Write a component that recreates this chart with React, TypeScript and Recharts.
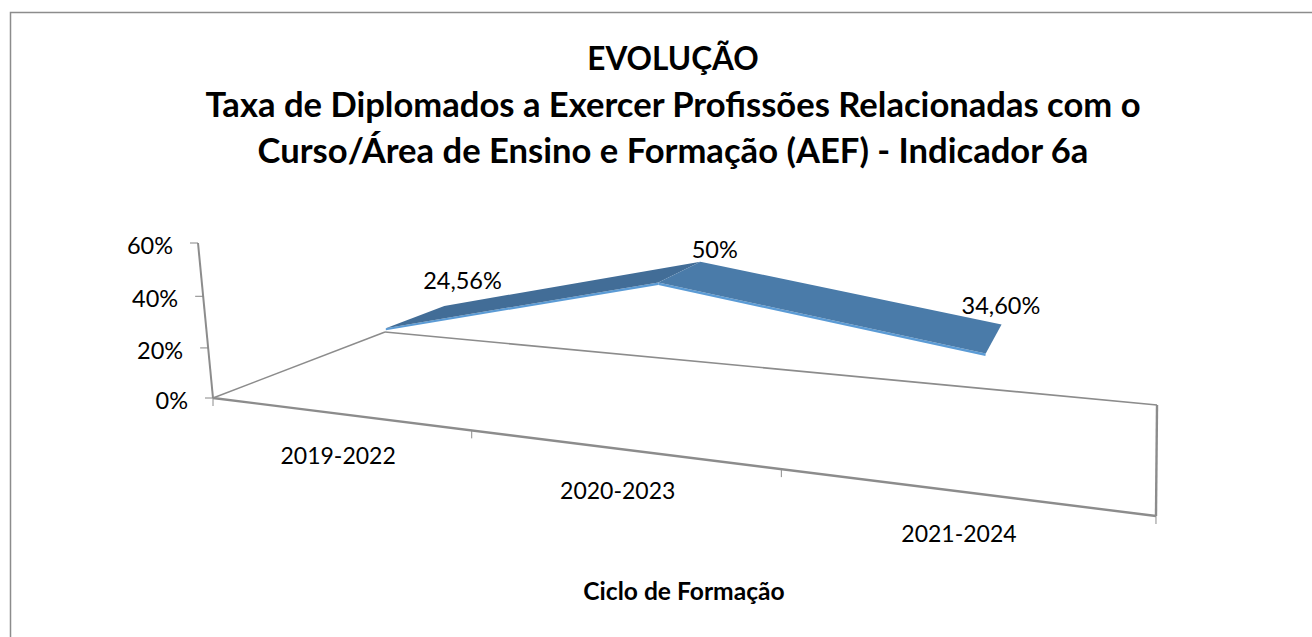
import React from 'react';
import { LineChart, Line, XAxis, YAxis } from 'recharts';

const categories = ['2019-2022', '2020-2023', '2021-2024'];
const seriesValues = [24.56, 50, 34.6];
const valueLabels = ['24,56%', '50%', '34,60%'];
const yTicks = [0, 20, 40, 60];
const titleLines = [
  'EVOLUÇÃO',
  'Taxa de Diplomados a Exercer Profissões Relacionadas com o',
  'Curso/Área de Ensino e Formação (AEF) - Indicador 6a',
];
const axisTitle = 'Ciclo de Formação';

const WIDTH = 1312;
const HEIGHT = 637;
const FONT = 'Lato, "Open Sans", sans-serif';

// flat plot area recharts lays out, its scales are then pushed through the 3D camera
const PLOT = { left: 100, top: 100, width: 1112, height: 437 };
const Y_MAX = 60;

// camera fitted on the floor corners of the reference (u along x, v depth, w height)
const CAM = {
  x: [643, 257.4, -24.05, 213],
  y: [-15.9, 7.6, -166.1, 398],
  d: [-0.2595, 0.2218, -0.0457, 1],
};

function project(u: number, v: number, w: number) {
  const d = CAM.d[0] * u + CAM.d[1] * v + CAM.d[2] * w + CAM.d[3];
  return {
    x: (CAM.x[0] * u + CAM.x[1] * v + CAM.x[2] * w + CAM.x[3]) / d,
    y: (CAM.y[0] * u + CAM.y[1] * v + CAM.y[2] * w + CAM.y[3]) / d,
  };
}

const toU = (x: number) => (x - PLOT.left) / PLOT.width;
const toW = (y: number) => (PLOT.top + PLOT.height - y) / PLOT.height;
const poly = (pts: { x: number; y: number }[]) => pts.map((p) => `${p.x},${p.y}`).join(' ');

const data = categories.map((name, i) => ({ name, value: seriesValues[i] }));

const FRONT = 0.3;
const BACK = 0.67;
const EDGE = 0.014;
const segmentFill = ['#426d97', '#4a7ba9'];
// labels were dragged a bit by hand in the original
const labelNudge = [
  [-3, -14],
  [-1, -1],
  [-7, -4],
];

function Ribbon({ points, index }: any) {
  if (index !== 0 || !points) return <g key="ribbon-empty" />;
  const pts = points.map((p: any) => ({ u: toU(p.x), w: toW(p.y) }));
  return (
    <g key="ribbon">
      {pts.slice(0, -1).map((a: any, i: number) => {
        const b = pts[i + 1];
        const top = [project(a.u, FRONT, a.w), project(b.u, FRONT, b.w), project(b.u, BACK, b.w), project(a.u, BACK, a.w)];
        const edge = [
          project(a.u, FRONT, a.w),
          project(b.u, FRONT, b.w),
          project(b.u, FRONT, b.w - EDGE),
          project(a.u, FRONT, a.w - EDGE),
        ];
        return (
          <g key={i}>
            <polygon points={poly(edge)} fill="#5b9bd5" />
            <polygon points={poly(top)} fill={segmentFill[i]} />
          </g>
        );
      })}
    </g>
  );
}

function ValueLabel({ x, y, index }: any) {
  const p = project(toU(x), 0.82, toW(y) + 0.03);
  return (
    <text
      x={p.x + labelNudge[index][0]}
      y={p.y + labelNudge[index][1]}
      textAnchor="middle"
      dominantBaseline="central"
      fontSize={23.5}
      fontFamily={FONT}
      fill="#000"
    >
      {valueLabels[index]}
    </text>
  );
}

function CategoryTick({ x, payload }: any) {
  const p = project(toU(x), 0, 0);
  return (
    <text x={p.x + 3.5} y={p.y + 42} textAnchor="middle" dominantBaseline="central" fontSize={23} fontFamily={FONT} fill="#000">
      {payload.value}
    </text>
  );
}

function ValueTick({ y, payload }: any) {
  const p = project(0, 0, toW(y));
  return (
    <g>
      <line x1={p.x - 8} y1={p.y} x2={p.x} y2={p.y} stroke="#868686" strokeWidth={1} />
      <text x={p.x - 25} y={p.y + 2} textAnchor="end" dominantBaseline="central" fontSize={23.5} fontFamily={FONT} fill="#000">
        {payload.value}%
      </text>
    </g>
  );
}

function Frame() {
  const corners = [project(0, 0, 0), project(0, 1, 0), project(1, 1, 0), project(1, 0, 0)];
  const top = project(0, 0, 1);
  const ticks = [0, 0.338, 0.672, 1].map((u) => project(u, 0, 0));
  const seg = (a: any, b: any, w: number) => (
    <line x1={a.x} y1={a.y} x2={b.x} y2={b.y} stroke="#8c8c8c" strokeWidth={w} />
  );
  return (
    <g>
      {seg(corners[0], corners[1], 1.6)}
      {seg(corners[1], corners[2], 1.6)}
      {seg(corners[2], corners[3], 2.4)}
      {seg(corners[3], corners[0], 2.4)}
      {seg(corners[0], top, 2)}
      {ticks.map((t, i) => (
        <line key={i} x1={t.x} y1={t.y} x2={t.x} y2={t.y + 8} stroke="#8c8c8c" strokeWidth={1} />
      ))}
      <polyline points={`10.5,${HEIGHT} 10.5,12.5 ${WIDTH},12.5`} fill="none" stroke="#8c8c8c" strokeWidth={1.5} />
    </g>
  );
}

export default function App() {
  return (
    <div style={{ position: 'absolute', left: 0, top: 0, width: WIDTH, height: HEIGHT, background: '#fff' }}>
      <LineChart
        width={WIDTH}
        height={HEIGHT}
        data={data}
        margin={{ top: PLOT.top, left: PLOT.left - 40, right: WIDTH - PLOT.left - PLOT.width, bottom: HEIGHT - PLOT.top - PLOT.height - 30 }}
      >
        <Frame />
        <XAxis dataKey="name" scale="band" interval={0} height={30} axisLine={false} tickLine={false} tick={CategoryTick} />
        <YAxis width={40} domain={[0, Y_MAX]} ticks={yTicks} interval={0} axisLine={false} tickLine={false} tick={ValueTick} />
        <Line
          dataKey="value"
          stroke="none"
          isAnimationActive={false}
          dot={(props: any) => <Ribbon key={props.index} {...props} />}
          label={ValueLabel}
        />
        <text textAnchor="middle" fontFamily={FONT} fontWeight={700} fontSize={34.6} fill="#000">
          {titleLines.map((line, i) => (
            <tspan key={i} x={673} y={70 + i * 46.5} fontSize={i === 0 ? 31.5 : undefined}>
              {line}
            </tspan>
          ))}
        </text>
        <text x={684} y={590} textAnchor="middle" dominantBaseline="central" fontFamily={FONT} fontWeight={700} fontSize={24.6} fill="#000">
          {axisTitle}
        </text>
      </LineChart>
    </div>
  );
}
